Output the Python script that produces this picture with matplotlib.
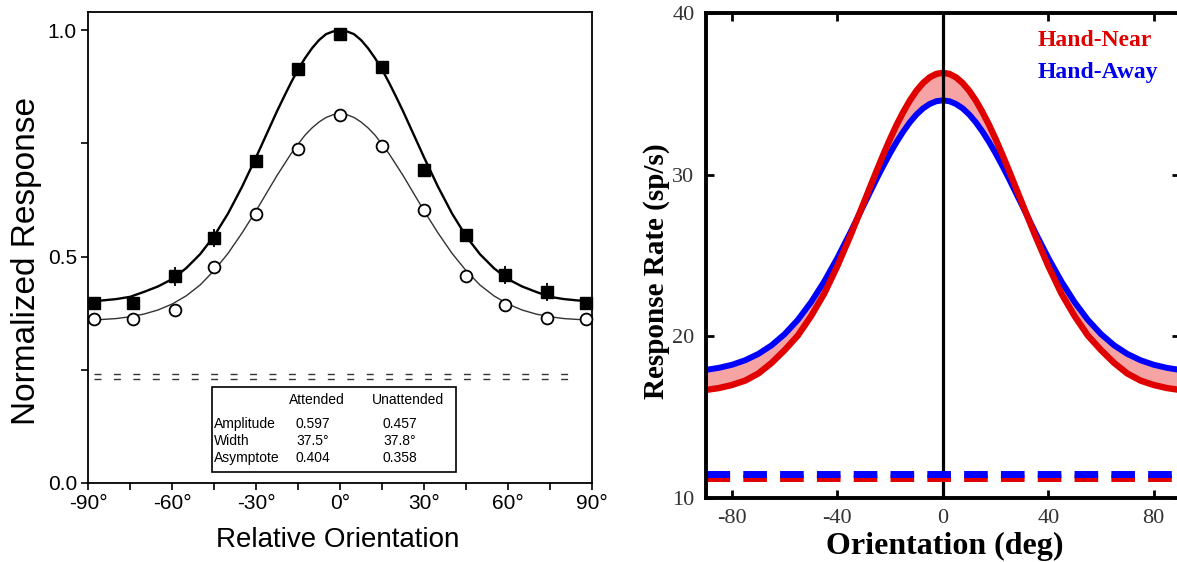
import numpy as np
import matplotlib
matplotlib.use('Agg')
import matplotlib.pyplot as plt
from matplotlib.patches import Rectangle

plt.rcParams['font.family'] = ['Liberation Sans', 'DejaVu Sans']

# ---- left panel: measured points ----
orient_pts = [-88, -74, -59, -45, -30, -15, 0, 15, 30, 45, 59, 74, 88]
attended_pts = [0.397, 0.398, 0.456, 0.540, 0.710, 0.914, 0.992, 0.919, 0.692, 0.548, 0.459, 0.422, 0.397]
attended_err = [0, 0, 0.02, 0.02, 0, 0, 0, 0, 0, 0, 0.02, 0.02, 0]
unattended_pts = [0.361, 0.361, 0.383, 0.476, 0.595, 0.737, 0.813, 0.744, 0.602, 0.458, 0.394, 0.365, 0.361]

# fitted curves (finer near the peak)
orient_fit = [-90, -85, -80, -75, -70, -65, -60, -55, -50, -45, -40, -35, -30, -25,
              -22.5, -20, -17.5, -15, -12.5, -10, -7.5, -5, -2.5, 0,
              2.5, 5, 7.5, 10, 12.5, 15, 17.5, 20, 22.5,
              25, 30, 35, 40, 45, 50, 55, 60, 65, 70, 75, 80, 85, 90]
attended_fit = [0.401, 0.403, 0.406, 0.411, 0.422, 0.434, 0.450, 0.474, 0.505, 0.545,
                0.595, 0.654, 0.719, 0.787, 0.821, 0.853, 0.884, 0.913, 0.938, 0.960,
                0.978, 0.991, 0.997, 0.999, 0.997, 0.991, 0.978, 0.960, 0.938, 0.913,
                0.884, 0.853, 0.821, 0.787, 0.719, 0.654, 0.595, 0.545, 0.505, 0.474,
                0.450, 0.434, 0.422, 0.411, 0.406, 0.403, 0.401]
unattended_fit = [0.360, 0.361, 0.363, 0.367, 0.373, 0.382, 0.395, 0.413, 0.437, 0.469,
                  0.507, 0.552, 0.601, 0.653, 0.679, 0.703, 0.727, 0.748, 0.768, 0.784,
                  0.797, 0.807, 0.813, 0.815, 0.813, 0.807, 0.797, 0.784, 0.768, 0.748,
                  0.727, 0.703, 0.679, 0.653, 0.601, 0.552, 0.507, 0.469, 0.437, 0.413,
                  0.395, 0.382, 0.373, 0.367, 0.363, 0.361, 0.360]
spont_levels = [0.241, 0.230]

table_cols = ['Attended', 'Unattended']
table_rows = ['Amplitude', 'Width', 'Asymptote']
table_vals = [['0.597', '0.457'], ['37.5°', '37.8°'], ['0.404', '0.358']]

left_xticks = [-90, -60, -30, 0, 30, 60, 90]
left_xlabels = ['-90°', '-60°', '-30°', '0°', '30°', '60°', '90°']

# ---- right panel ----
orient_deg = orient_fit
hand_near = [16.68, 16.80, 16.99, 17.26, 17.70, 18.35, 19.15, 20.05, 21.25, 22.64,
             24.35, 26.25, 28.26, 30.29, 31.27, 32.21, 33.09, 33.88, 34.59, 35.19,
             35.67, 36.02, 36.23, 36.30, 36.23, 36.02, 35.67, 35.19, 34.59, 33.88,
             33.09, 32.21, 31.27, 30.29, 28.26, 26.25, 24.35, 22.64, 21.25, 20.05,
             19.15, 18.35, 17.70, 17.26, 16.99, 16.80, 16.68]
hand_away = [17.92, 18.05, 18.24, 18.52, 18.91, 19.44, 20.14, 21.02, 22.11, 23.39,
             24.85, 26.45, 28.12, 29.78, 30.57, 31.33, 32.03, 32.67, 33.24, 33.72,
             34.10, 34.37, 34.54, 34.60, 34.54, 34.37, 34.10, 33.72, 33.24, 32.67,
             32.03, 31.33, 30.57, 29.78, 28.12, 26.45, 24.85, 23.39, 22.11, 21.02,
             20.14, 19.44, 18.91, 18.52, 18.24, 18.05, 17.92]
baseline_near = 11.25
baseline_away = 11.5

fig = plt.figure(figsize=(11.77, 5.62), dpi=100)

# ================= left =================
ax1 = fig.add_axes([0.0748, 0.1406, 0.4282, 0.8381])
ax1.plot(orient_fit, attended_fit, color='black', lw=1.7, solid_joinstyle='round')
ax1.plot(orient_fit, unattended_fit, color='#333333', lw=1.0, solid_joinstyle='round')
ax1.errorbar(orient_pts, attended_pts, yerr=attended_err, fmt='s', ms=8,
             color='black', elinewidth=1.3, capsize=0, clip_on=False, zorder=4)
ax1.plot(orient_pts, unattended_pts, 'o', ms=8.5, mfc='white', mec='black',
         mew=1.3, clip_on=False, zorder=4)
for lvl in spont_levels:
    ax1.hlines(lvl, -88, 85, color='#333333', lw=1.0, linestyles=(0, (5, 9)))

ax1.set_xlim(-90, 90)
ax1.set_ylim(0, 1.04)
ax1.set_xticks(left_xticks, left_xlabels)
ax1.set_xticks(range(-90, 91, 15), minor=True)
ax1.set_yticks([0, 0.5, 1.0], ['0.0', '0.5', '1.0'])
ax1.set_yticks([0.25, 0.75], minor=True)
ax1.tick_params(which='both', direction='out', length=5, width=1.2,
                labelsize=15, pad=3)
for s in ax1.spines.values():
    s.set_linewidth(1.3)

# parameter table
ax1.add_patch(Rectangle((-45.7, 0.024), 87.1, 0.188, fill=False,
                        ec='black', lw=1.2, zorder=3))
col_x = [-8.2, 24.3]
val_x = [-9.6, 21.4]
for cx, name in zip(col_x, table_cols):
    ax1.text(cx, 0.183, name, ha='center', va='center', fontsize=10)
row_y = [0.130, 0.093, 0.055]
for ry, name, vals in zip(row_y, table_rows, table_vals):
    ax1.text(-45, ry, name, ha='left', va='center', fontsize=10)
    for vx, v in zip(val_x, vals):
        ax1.text(vx, ry, v, ha='center', va='center', fontsize=10)

fig.text(27 / 1177, 0.5347, 'Normalized Response', rotation=90,
         ha='center', va='center', fontsize=24)
fig.text(338 / 1177, 0.039, 'Relative Orientation', ha='center',
         va='center', fontsize=20)

# ================= right =================
serif = ['Liberation Serif', 'DejaVu Serif']
ax2 = fig.add_axes([0.5995, 0.1139, 0.4031, 0.863])
ax2.fill_between(orient_deg, hand_near, hand_away, color='#f5a3a3', lw=0)
ax2.plot(orient_deg, hand_away, color='#0000ff', lw=4.3, solid_joinstyle='round')
ax2.plot(orient_deg, hand_near, color='#e00000', lw=4.6, solid_joinstyle='round')
ax2.axvline(0, color='black', lw=2.3)
ax2.axhline(baseline_near, color='#e00000', lw=5, dashes=(3.4, 1.9))
ax2.axhline(baseline_away, color='#0000ff', lw=5, dashes=(3.4, 1.9))

ax2.set_xlim(-90, 90)
ax2.set_ylim(10, 40)
ax2.set_xticks([-80, -40, 0, 40, 80], ['-80', '-40', '0', '40', '80'], fontfamily=serif)
ax2.set_yticks([10, 20, 30, 40], ['10', '20', '30', '40'], fontfamily=serif)
ax2.tick_params(direction='in', length=6, width=2, top=True, right=True,
                labelsize=16, labelcolor='#333333', pad=8)
for s in ax2.spines.values():
    s.set_linewidth(2.8)

ax2.text(0.7007, 0.944, 'Hand-Near', transform=ax2.transAxes, color='#e00000',
         fontsize=17, fontweight='bold', family=serif, ha='left', va='center')
ax2.text(0.7007, 0.877, 'Hand-Away', transform=ax2.transAxes, color='#0000ee',
         fontsize=17, fontweight='bold', family=serif, ha='left', va='center')

fig.text(657 / 1177, 1 - 271 / 562, 'Response Rate (sp/s)', rotation=90,
         ha='center', va='center', fontsize=21, fontweight='bold', family=serif)
fig.text(945 / 1177, 0.0285, 'Orientation (deg)', ha='center', va='center',
         fontsize=23, fontweight='bold', family=serif)

fig.savefig('out.png', dpi=100)
